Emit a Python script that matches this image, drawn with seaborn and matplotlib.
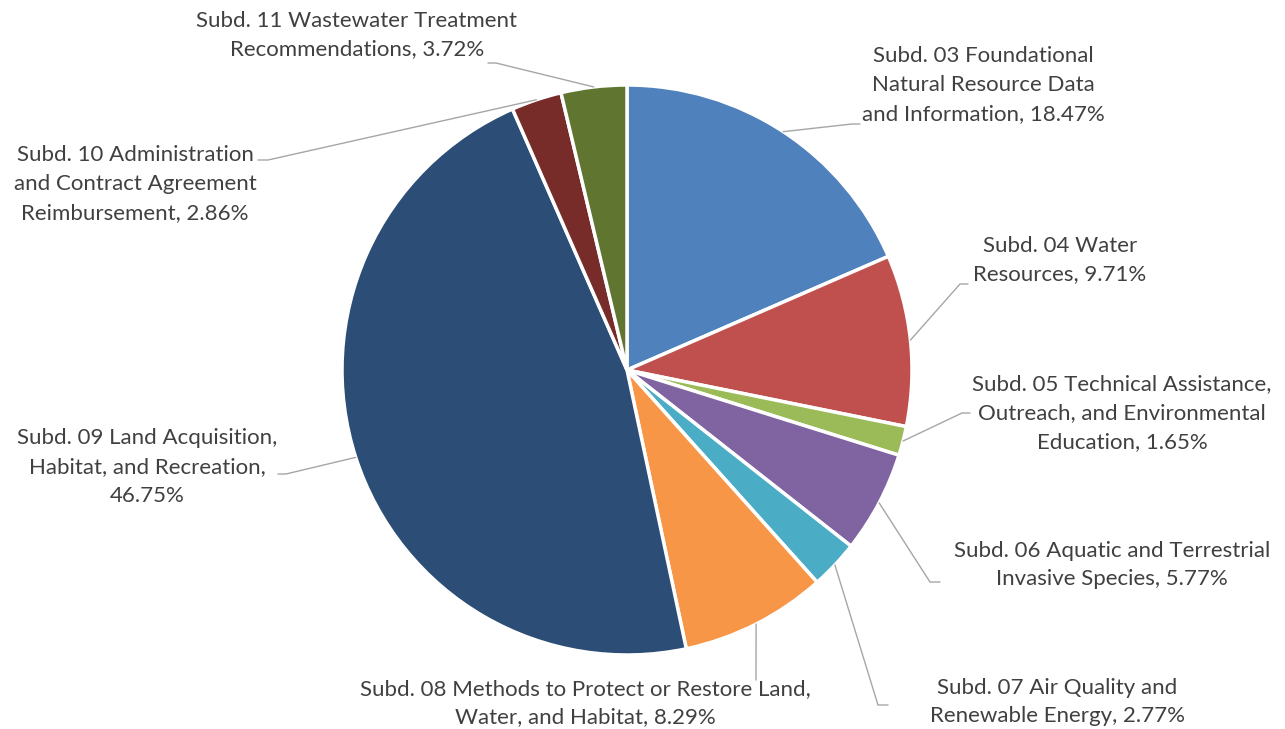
import numpy as np
import seaborn as sns
import matplotlib.pyplot as plt

sns.set_theme(style="white")
plt.rcParams['font.family'] = ['Lato', 'DejaVu Sans']

# data
labels = ['Subd. 03 Foundational\nNatural Resource Data\nand Information',
          'Subd. 04 Water\nResources',
          'Subd. 05 Technical Assistance,\nOutreach, and Environmental\nEducation',
          'Subd. 06 Aquatic and Terrestrial\nInvasive Species',
          'Subd. 07 Air Quality and\nRenewable Energy',
          'Subd. 08 Methods to Protect or Restore Land,\nWater, and Habitat',
          'Subd. 09 Land Acquisition,\nHabitat, and Recreation,\n',
          'Subd. 10 Administration\nand Contract Agreement\nReimbursement',
          'Subd. 11 Wastewater Treatment\nRecommendations']
shares = [18.47, 9.71, 1.65, 5.77, 2.77, 8.29, 46.75, 2.86, 3.72]
colors = ['#4F81BD', '#C0504D', '#9BBB59', '#8064A2', '#4BACC6',
          '#F79646', '#2C4D75', '#772C2A', '#5F7530']

# label layout (pixel coords from top-left): text centre, elbow, line end
text_pos = [(983, 85), (1060, 260), (1122, 413), (1112, 565), (1057, 702),
            (585, 703), (147, 467), (135, 184), (357, 35)]
elbows = [(852, 124), (960, 284), (962, 413), (930, 582), (878, 705),
          (756, 680), (286, 474), (268, 160), (496, 63)]
ends = [(860, 124), (968, 284), (970, 413), (940, 582), (888, 705),
        (756, 680), (278, 474), (258, 160), (488, 63)]

W, H = 1285, 729
cx, cy, r = 627, 370, 285

fig = plt.figure(figsize=(12.85, 7.29), dpi=100)
ax = fig.add_axes([0, 0, 1, 1])

wedges, _ = ax.pie(shares, colors=colors, startangle=90, counterclock=False,
                   center=(cx, H - cy), radius=r,
                   wedgeprops=dict(edgecolor='white', linewidth=2.5))
ax.set_xlim(0, W)
ax.set_ylim(0, H)
ax.set_aspect('equal')
ax.axis('off')

for w, lab, v, tp, el, en in zip(wedges, labels, shares, text_pos, elbows, ends):
    mid = np.deg2rad((w.theta1 + w.theta2) / 2)
    sx = cx + r * np.cos(mid)
    sy = (H - cy) + r * np.sin(mid)
    ax.plot([sx, el[0], en[0]], [sy, H - el[1], H - en[1]],
            color='#A6A6A6', lw=1.0, solid_joinstyle='miter')
    if lab.endswith('\n'):
        txt = f"{lab}{v:.2f}%"
    else:
        txt = f"{lab}, {v:.2f}%"
    ax.text(tp[0], H - tp[1], txt, ha='center', va='center',
            multialignment='center', fontsize=16, color='#404040',
            linespacing=1.55)

fig.savefig('out.png', dpi=100)
